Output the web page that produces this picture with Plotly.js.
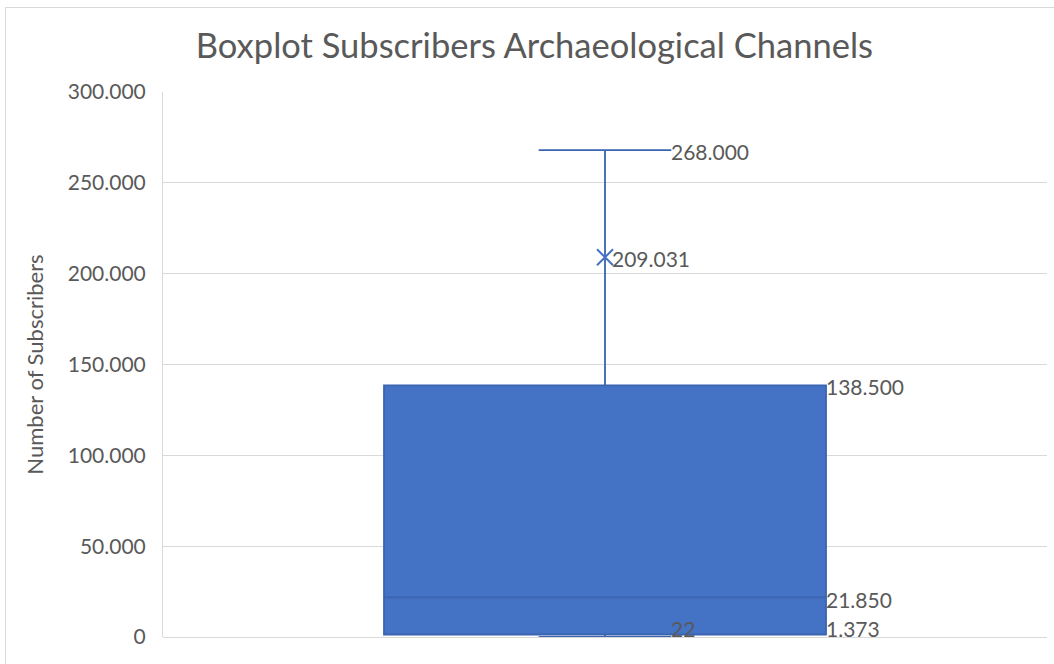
<!DOCTYPE html>
<html>
<head>
<meta charset="utf-8">
<script src="https://cdn.plot.ly/plotly-3.0.1.min.js"></script>
<style>
  html, body { margin: 0; padding: 0; background: #fff; }
  #frame { position: absolute; left: 5px; top: 7px; width: 1100px; height: 700px; border: 1px solid #d9d9d9; }
  #chart { position: absolute; left: 0; top: 0; width: 1054px; height: 664px; }
</style>
</head>
<body>
<div id="frame"></div>
<div id="chart"></div>
<script>
// Data
const categories = ["Archaeological Channels"];
const minVals    = [22];
const q1Vals     = [1373];
const medianVals = [21850];
const q3Vals     = [138500];
const maxVals    = [268000];
const meanVals   = [209031];
const yTickVals  = [0, 50000, 100000, 150000, 200000, 250000, 300000];

const fmt = v => new Intl.NumberFormat('de-DE').format(v);
const fontFam = 'Lato, "Open Sans", sans-serif';
const grey = '#595959';
const boxWidth = 0.5;
const whiskerWidth = 0.3;

const traces = [
  {
    type: 'box',
    x: [0],
    q1: q1Vals,
    median: medianVals,
    q3: q3Vals,
    lowerfence: minVals,
    upperfence: maxVals,
    width: boxWidth,
    whiskerwidth: whiskerWidth,
    fillcolor: '#4472C4',
    line: { color: '#3A64B0', width: 1.8 },
    boxpoints: false,
    hoverinfo: 'skip',
    name: categories[0]
  },
  {
    type: 'scatter',
    mode: 'markers',
    x: [0],
    y: meanVals,
    marker: { symbol: 'x-thin-open', size: 16, color: '#4472C4', line: { color: '#4472C4', width: 2 } },
    hoverinfo: 'skip',
    showlegend: false
  }
];

const labelFont = { family: fontFam, size: 21, color: grey };
const capEdge = boxWidth * whiskerWidth / 2;
const boxEdge = boxWidth / 2;
const annotations = [
  { x: capEdge, y: maxVals[0], text: fmt(maxVals[0]), xanchor: 'left', yanchor: 'middle', xshift: -2, yshift: -1, showarrow: false, font: labelFont },
  { x: 0, y: meanVals[0], text: fmt(meanVals[0]), xanchor: 'left', yanchor: 'middle', xshift: 5, yshift: -1, showarrow: false, font: labelFont },
  { x: boxEdge, y: q3Vals[0], text: fmt(q3Vals[0]), xanchor: 'left', yanchor: 'middle', xshift: -2, yshift: -1, showarrow: false, font: labelFont },
  { x: boxEdge, y: medianVals[0], text: fmt(medianVals[0]), xanchor: 'left', yanchor: 'middle', xshift: -2, yshift: -2, showarrow: false, font: labelFont },
  { x: boxEdge, y: q1Vals[0], text: fmt(q1Vals[0]), xanchor: 'left', yanchor: 'middle', xshift: -2, yshift: 6, showarrow: false, font: labelFont },
  { x: capEdge, y: minVals[0], text: fmt(minVals[0]), xanchor: 'left', yanchor: 'middle', xshift: -2, yshift: 8, showarrow: false, font: labelFont }
];

const layout = {
  width: 1054,
  height: 664,
  margin: { l: 163, r: 7, t: 92, b: 27 },
  paper_bgcolor: 'rgba(0,0,0,0)',
  plot_bgcolor: 'rgba(0,0,0,0)',
  separators: ',.',
  showlegend: false,
  title: {
    text: 'Boxplot Subscribers Archaeological Channels',
    font: { family: fontFam, size: 34.5, color: grey },
    x: 0.507, xanchor: 'center',
    y: 1 - 46 / 664, yanchor: 'middle'
  },
  xaxis: {
    range: [-0.5, 0.5],
    showticklabels: false,
    showgrid: false,
    zeroline: false,
    showline: false,
    fixedrange: true
  },
  yaxis: {
    range: [0, 300000],
    tickvals: yTickVals,
    tickformat: ',d',
    tickfont: { family: fontFam, size: 21, color: grey },
    ticklabelstandoff: 12,
    gridcolor: '#d9d9d9',
    gridwidth: 1,
    zeroline: true,
    zerolinecolor: '#d9d9d9',
    zerolinewidth: 1,
    showline: true,
    linecolor: '#d9d9d9',
    linewidth: 1,
    ticks: '',
    title: {
      text: 'Number of Subscribers',
      font: { family: fontFam, size: 22, color: grey },
      standoff: 18
    },
    automargin: false
  },
  annotations: annotations
};

Plotly.newPlot('chart', traces, layout, { displayModeBar: false, staticPlot: true });
</script>
</body>
</html>
